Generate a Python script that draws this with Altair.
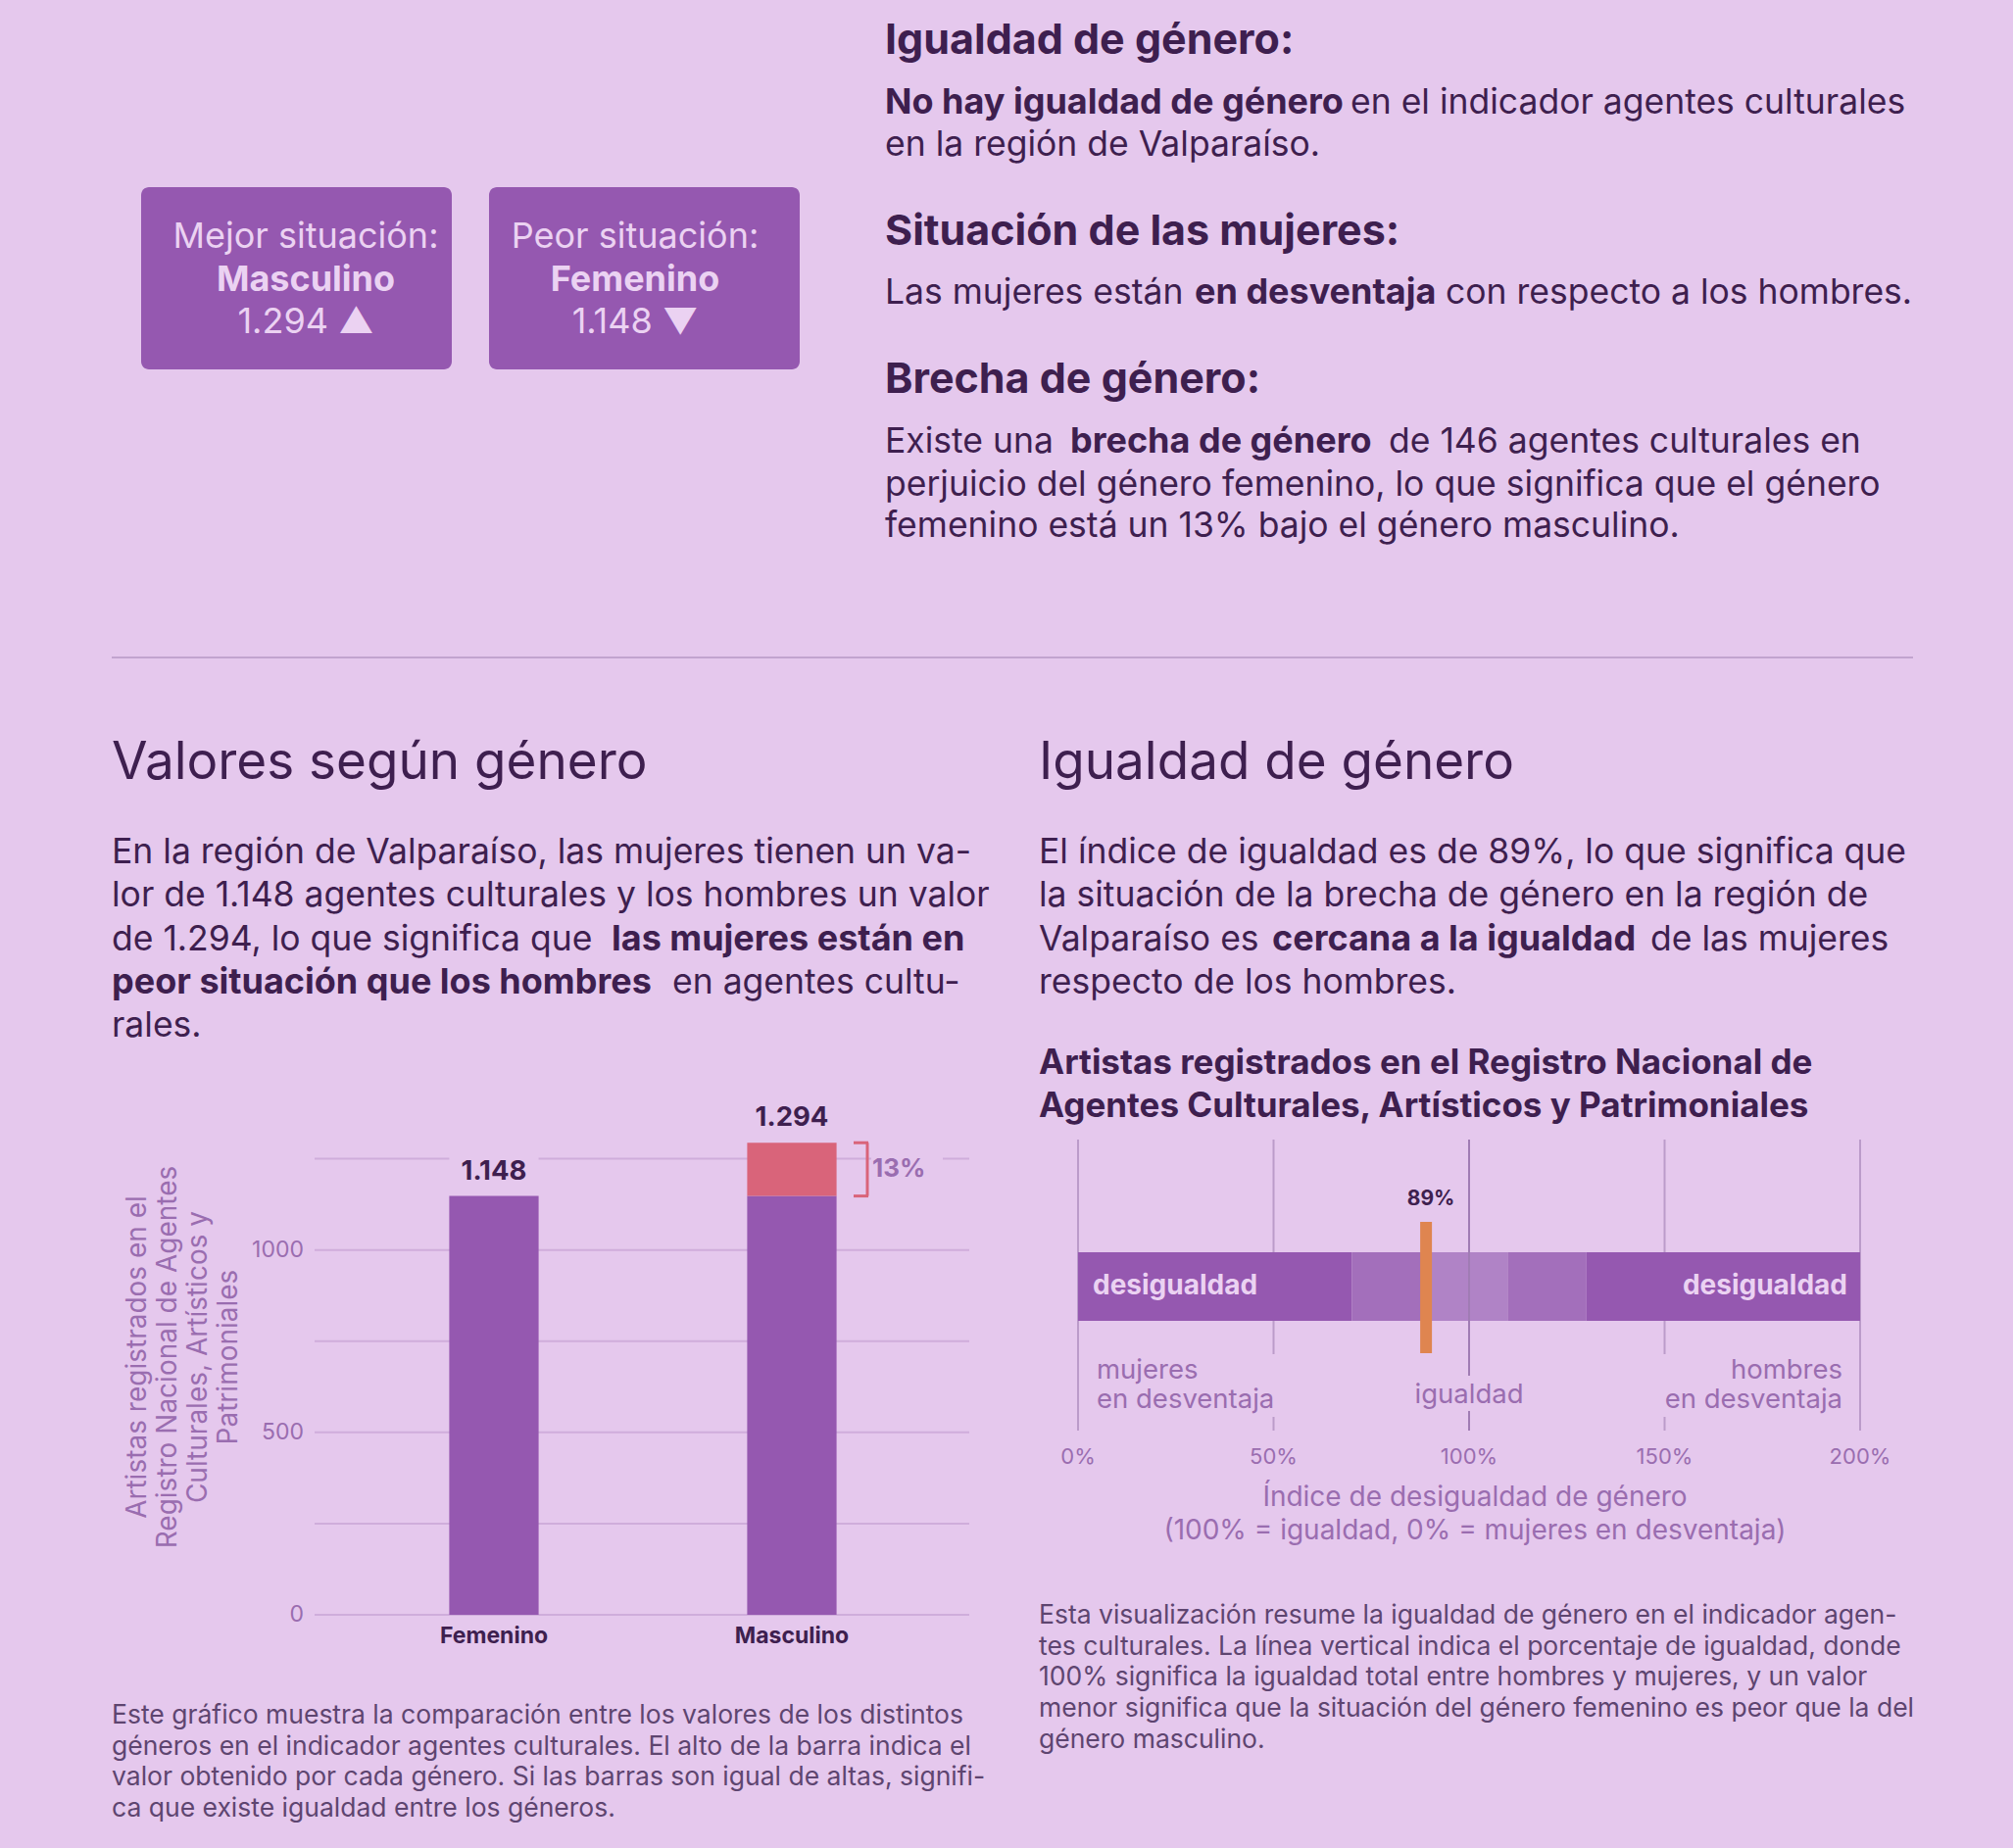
import altair as alt
import pandas as pd
import jinja2

# ---------------- data ----------------
generos = ["Femenino", "Masculino"]
valores = [1148, 1294]
y_ticks = [0, 250, 500, 750, 1000, 1250]
y_tick_labels = [0, 500, 1000]

indice = [89]
idx_ticks = [0, 50, 100, 150, 200]
idx_tick_labels = ["0%", "50%", "100%", "150%", "200%"]
zona_inicio = [0, 70, 90, 110, 130]
zona_fin = [70, 90, 110, 130, 200]
zona_tono = ["lejos", "cerca", "igual", "cerca", "lejos"]

box_titulos = ["Mejor situación:", "Peor situación:"]
box_generos = ["Masculino", "Femenino"]
box_valores = ["1.294 ▲", "1.148 ▼"]

# ---------------- style ----------------
BG = "#E5C8ED"
DARK = "#3E1F4F"
PURPLE = "#9558B0"
MEDIUM = "#A36FBB"
LIGHTBAND = "#B083C6"
MID = "#9A6DB0"
PINK = "#D9647A"
ORANGE = "#DF8550"
LIGHT = "#EBD2F2"
FOOT = "#5E4570"
GRID_L = "#CFADDB"
GRID_R = "#BB9BCA"
GRID_100 = "#A07CB4"
SEP = "#C2A4CF"
FONT = "Inter, sans-serif"

M = 8


def P(v):
    return v - M


def fmt(v):
    return f"{v:,}".replace(",", ".")


layers = []


def txt(t, x, y, size, weight="normal", color=DARK, align="left", **kw):
    df = pd.DataFrame({"t": [t]})
    return alt.Chart(df).mark_text(
        align=align, baseline="middle", font=FONT, fontSize=size,
        fontWeight=weight, color=color, **kw
    ).encode(x=alt.value(P(x)), y=alt.value(P(y)), text="t:N")


BODY = 35.5
BOLD = 36
HEAD = 43
SECT = 53

# ---------------- top: boxes ----------------
df_box = pd.DataFrame({"titulo": box_titulos, "genero": box_generos, "valor": box_valores})
bx = alt.Scale(domain=box_titulos, range=[P(144), P(816)], paddingInner=0.107, paddingOuter=0)
boxes = alt.Chart(df_box).mark_rect(cornerRadius=8, color=PURPLE).encode(
    x=alt.X("titulo:N", scale=bx, axis=None), y=alt.value(P(191)), y2=alt.value(P(377)))
layers.append(boxes)
for col, yy, w in [("titulo", 242, "normal"), ("genero", 286, "bold"), ("valor", 329, "normal")]:
    layers.append(alt.Chart(df_box).mark_text(
        font=FONT, fontSize=36, fontWeight=w, color=LIGHT, align="center", baseline="middle"
    ).encode(x=alt.X("titulo:N", scale=bx, axis=None), y=alt.value(P(yy)), text=f"{col}:N"))

# ---------------- top right text ----------------
layers += [
    txt("Igualdad de género:", 903, 42, HEAD, "bold"),
    txt("No hay igualdad de género", 903, 105, BOLD, "bold"),
    txt("en el indicador agentes culturales", 1378, 105, BODY),
    txt("en la región de Valparaíso.", 903, 148, BODY),
    txt("Situación de las mujeres:", 903, 237, HEAD, "bold"),
    txt("Las mujeres están", 903, 299, BODY),
    txt("en desventaja", 1219, 299, BOLD, "bold"),
    txt("con respecto a los hombres.", 1475, 299, BODY),
    txt("Brecha de género:", 903, 388, HEAD, "bold"),
    txt("Existe una", 903, 451, BODY),
    txt("brecha de género", 1092, 451, BOLD, "bold"),
    txt("de 146 agentes culturales en", 1417, 451, BODY),
    txt("perjuicio del género femenino, lo que significa que el género", 903, 495, BODY),
    txt("femenino está un 13% bajo el género masculino.", 903, 537, BODY),
]

# separator
layers.append(alt.Chart(pd.DataFrame({"a": [0]})).mark_rule(color=SEP, strokeWidth=2).encode(
    x=alt.value(P(114)), x2=alt.value(P(1952)), y=alt.value(P(671))))

# ---------------- left section text ----------------
layers += [
    txt("Valores según género", 114, 779, SECT),
    txt("En la región de Valparaíso, las mujeres tienen un va-", 114, 870, BODY),
    txt("lor de 1.148 agentes culturales y los hombres un valor", 114, 914, BODY),
    txt("de 1.294, lo que significa que", 114, 959, BODY),
    txt("las mujeres están en", 624, 959, BOLD, "bold"),
    txt("peor situación que los hombres", 114, 1003, BOLD, "bold"),
    txt("en agentes cultu-", 686, 1003, BODY),
    txt("rales.", 114, 1047, BODY),
]

# ---------------- right section text ----------------
layers += [
    txt("Igualdad de género", 1060, 779, SECT),
    txt("El índice de igualdad es de 89%, lo que significa que", 1060, 870, BODY),
    txt("la situación de la brecha de género en la región de", 1060, 914, BODY),
    txt("Valparaíso es", 1060, 959, BODY),
    txt("cercana a la igualdad", 1298, 959, BOLD, "bold"),
    txt("de las mujeres", 1684, 959, BODY),
    txt("respecto de los hombres.", 1060, 1003, BODY),
    txt("Artistas registrados en el Registro Nacional de", 1060, 1085, 35, "bold"),
    txt("Agentes Culturales, Artísticos y Patrimoniales", 1060, 1129, 35, "bold"),
]

# ---------------- bar chart ----------------
xs = alt.Scale(domain=generos, range=[P(352), P(960)], paddingInner=0.7, paddingOuter=0.35)
ys = alt.Scale(domain=[0, 1300], range=[P(1648), P(1164)])

df_grid = pd.DataFrame({"v": y_ticks})
layers.append(alt.Chart(df_grid).mark_rule(color=GRID_L, strokeWidth=2).encode(
    y=alt.Y("v:Q", scale=ys, axis=None), x=alt.value(P(321)), x2=alt.value(P(989))))

df_ylab = pd.DataFrame({"v": y_tick_labels, "t": [str(v) for v in y_tick_labels]})
layers.append(alt.Chart(df_ylab).mark_text(
    align="right", baseline="middle", font=FONT, fontSize=23, color=MID
).encode(y=alt.Y("v:Q", scale=ys, axis=None), x=alt.value(P(310)), text="t:N"))

lo = min(valores)
hi = max(valores)
df_bar = pd.DataFrame({"genero": generos, "valor": valores, "t": [fmt(v) for v in valores]})
df_br = pd.DataFrame({"y0": [lo], "y1": [hi], "ym": [(lo + hi) / 2],
                      "t": [f"{round((hi - lo) / lo * 100)}%"]})

# background patches behind the value labels (break the gridlines like the reference)
layers.append(alt.Chart(df_bar).mark_rect(color=BG, yOffset=-46, y2Offset=-30).encode(
    x=alt.X("genero:N", scale=xs, axis=None),
    y=alt.Y("valor:Q", scale=ys, axis=None), y2="valor:Q"))
layers.append(alt.Chart(df_br).mark_rect(color=BG, yOffset=-14, y2Offset=14).encode(
    x=alt.value(P(889)), x2=alt.value(P(962)),
    y=alt.Y("ym:Q", scale=ys, axis=None), y2="ym:Q"))

segs = []
for g, v in zip(generos, valores):
    segs.append({"genero": g, "y0": 0, "y1": min(v, lo), "parte": "base"})
    if v > lo:
        segs.append({"genero": g, "y0": lo, "y1": v, "parte": "brecha"})
df_seg = pd.DataFrame(segs)
layers.append(alt.Chart(df_seg).mark_bar().encode(
    x=alt.X("genero:N", scale=xs, axis=None),
    y=alt.Y("y0:Q", scale=ys, axis=None), y2="y1:Q",
    color=alt.Color("parte:N", scale=alt.Scale(domain=["base", "brecha"], range=[PURPLE, PINK]), legend=None)))

layers.append(alt.Chart(df_bar).mark_text(
    align="center", baseline="middle", font=FONT, fontSize=27.5, fontWeight="bold", dy=-25, color=DARK
).encode(x=alt.X("genero:N", scale=xs, axis=None), y=alt.Y("valor:Q", scale=ys, axis=None), text="t:N"))

layers.append(alt.Chart(df_bar).mark_text(
    align="center", baseline="middle", font=FONT, fontSize=23, fontWeight="bold", color=DARK
).encode(x=alt.X("genero:N", scale=xs, axis=None), y=alt.value(P(1670)), text="genero:N"))

# gap bracket
layers.append(alt.Chart(df_br).mark_rule(color=PINK, strokeWidth=3).encode(
    x=alt.value(P(885)), y=alt.Y("y0:Q", scale=ys, axis=None), y2="y1:Q"))
df_brt = pd.DataFrame({"v": [lo, hi]})
layers.append(alt.Chart(df_brt).mark_rule(color=PINK, strokeWidth=3).encode(
    x=alt.value(P(871)), x2=alt.value(P(886)), y=alt.Y("v:Q", scale=ys, axis=None)))
layers.append(alt.Chart(df_br).mark_text(
    align="left", baseline="middle", font=FONT, fontSize=26, fontWeight="bold", color=MID
).encode(x=alt.value(P(890)), y=alt.Y("ym:Q", scale=ys, axis=None), text="t:N"))

layers.append(txt("Artistas registrados en el\nRegistro Nacional de Agentes\nCulturales, Artísticos y\nPatrimoniales",
                  141, 1385, 28, color=MID, align="center", angle=270, lineBreak="\n", lineHeight=31))

# ---------------- index chart ----------------
xi = alt.Scale(domain=[0, 200], range=[P(1100), P(1898)])
df_it = pd.DataFrame({"v": idx_ticks, "t": idx_tick_labels})
layers.append(alt.Chart(df_it).mark_rule(color=GRID_R, strokeWidth=2).encode(
    x=alt.X("v:Q", scale=xi, axis=None), y=alt.value(P(1163)), y2=alt.value(P(1460))))

df_z = pd.DataFrame({"a": zona_inicio, "b": zona_fin, "tono": zona_tono})
layers.append(alt.Chart(df_z).mark_rect().encode(
    x=alt.X("a:Q", scale=xi, axis=None), x2="b:Q",
    y=alt.value(P(1278)), y2=alt.value(P(1348)),
    color=alt.Color("tono:N", scale=alt.Scale(domain=["lejos", "cerca", "igual"],
                                              range=[PURPLE, MEDIUM, LIGHTBAND]), legend=None)))

df_eq = pd.DataFrame({"v": [100]})
layers.append(alt.Chart(df_eq).mark_rule(color=GRID_100, strokeWidth=2).encode(
    x=alt.X("v:Q", scale=xi, axis=None), y=alt.value(P(1163)), y2=alt.value(P(1460))))

# background patches behind the lower labels
for v, a, b, y0, y1 in [(0, 12, 212, 1382, 1446),
                        (100, -48, 48, 1404, 1440),
                        (200, -212, -12, 1382, 1446)]:
    layers.append(alt.Chart(pd.DataFrame({"v": [v]})).mark_rect(color=BG, xOffset=a, x2Offset=b).encode(
        x=alt.X("v:Q", scale=xi, axis=None), x2="v:Q", y=alt.value(P(y0)), y2=alt.value(P(y1))))

df_ends = pd.DataFrame({"v": [0], "t": ["desigualdad"]})
layers.append(alt.Chart(df_ends).mark_text(
    align="left", baseline="middle", font=FONT, fontSize=28, fontWeight="bold", color=LIGHT, dx=15
).encode(x=alt.X("v:Q", scale=xi, axis=None), y=alt.value(P(1313)), text="t:N"))
df_ends2 = pd.DataFrame({"v": [200], "t": ["desigualdad"]})
layers.append(alt.Chart(df_ends2).mark_text(
    align="right", baseline="middle", font=FONT, fontSize=28, fontWeight="bold", color=LIGHT, dx=-13
).encode(x=alt.X("v:Q", scale=xi, axis=None), y=alt.value(P(1313)), text="t:N"))

for v, t, al, dx, yy in [(0, "mujeres\nen desventaja", "left", 19, 1399),
                         (100, "igualdad", "center", 0, 1424),
                         (200, "hombres\nen desventaja", "right", -18, 1399)]:
    d = pd.DataFrame({"v": [v], "t": [t]})
    layers.append(alt.Chart(d).mark_text(
        align=al, baseline="middle", font=FONT, fontSize=27.5, dx=dx, lineBreak="\n", lineHeight=30, color=MID
    ).encode(x=alt.X("v:Q", scale=xi, axis=None), y=alt.value(P(yy)), text="t:N"))

df_idx = pd.DataFrame({"v": indice, "t": [f"{v}%" for v in indice]})
layers.append(alt.Chart(df_idx).mark_rule(color=ORANGE, strokeWidth=12).encode(
    x=alt.X("v:Q", scale=xi, axis=None), y=alt.value(P(1247)), y2=alt.value(P(1381))))
layers.append(alt.Chart(df_idx).mark_text(
    align="center", baseline="middle", font=FONT, fontSize=21, fontWeight="bold", color=DARK, dx=5
).encode(x=alt.X("v:Q", scale=xi, axis=None), y=alt.value(P(1224)), text="t:N"))

layers.append(alt.Chart(df_it).mark_text(
    align="center", baseline="middle", font=FONT, fontSize=22, color=MID
).encode(x=alt.X("v:Q", scale=xi, axis=None), y=alt.value(P(1487)), text="t:N"))

layers.append(txt("Índice de desigualdad de género\n(100% = igualdad, 0% = mujeres en desventaja)",
                  1505, 1529, 28, color=MID, align="center", lineBreak="\n", lineHeight=34))

# ---------------- footnotes ----------------
FN = 26.5
foot_l = ["Este gráfico muestra la comparación entre los valores de los distintos",
          "géneros en el indicador agentes culturales. El alto de la barra indica el",
          "valor obtenido por cada género. Si las barras son igual de altas, signifi-",
          "ca que existe igualdad entre los géneros."]
for t, yy in zip(foot_l, [1751, 1783, 1814, 1846]):
    layers.append(txt(t, 114, yy, FN, color=FOOT))
foot_r = ["Esta visualización resume la igualdad de género en el indicador agen-",
          "tes culturales. La línea vertical indica el porcentaje de igualdad, donde",
          "100% significa la igualdad total entre hombres y mujeres, y un valor",
          "menor significa que la situación del género femenino es peor que la del",
          "género masculino."]
for t, yy in zip(foot_r, [1649, 1681, 1712, 1744, 1776]):
    layers.append(txt(t, 1060, yy, FN, color=FOOT))

chart = alt.layer(*layers).resolve_scale(
    x="independent", y="independent", color="independent"
).properties(
    width=2038, height=1870, padding=0, autosize=alt.AutoSizeParams(type="none")
).configure(background=BG).configure_view(strokeWidth=0)

EMB = {"renderer": "svg", "actions": False}
try:
    page = chart.to_html(embed_options=EMB)
    page = page.replace("<head>", "<head>\n<style>html, body { background: %s; }</style>" % BG, 1)
    tpl = jinja2.Template("{% raw %}" + page + "{% endraw %}")
    chart.save("out.html", embed_options=EMB, template=tpl)
except Exception:
    chart.save("out.html", embed_options=EMB)
